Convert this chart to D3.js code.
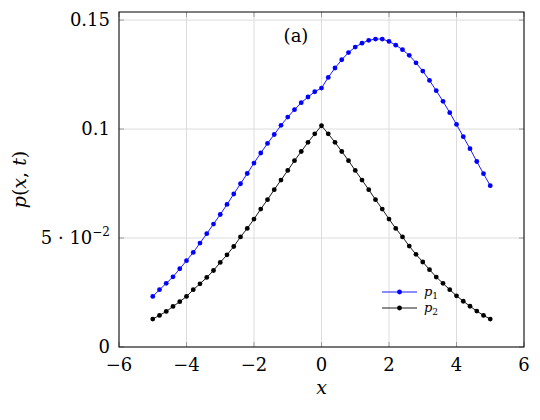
<!DOCTYPE html>
<html>
<head>
<meta charset="utf-8">
<script src="https://cdn.jsdelivr.net/npm/d3@7"></script>
<style>
  html, body { margin: 0; padding: 0; background: #fff; }
  svg { display: block; }
</style>
</head>
<body>
<svg id="chart" width="540" height="420" font-family="'DejaVu Serif', serif"></svg>
<script>
// ---- data ----
const xValues = d3.range(51).map(i => +(-5 + i * 0.2).toFixed(1));
const p1 = [
  0.0232, 0.0263, 0.0292, 0.0322, 0.0359, 0.0396, 0.0434, 0.0477, 0.0520, 0.0564,
  0.0608, 0.0654, 0.0702, 0.0749, 0.0796, 0.0844, 0.0890, 0.0934, 0.0975, 0.1017,
  0.1055, 0.1089, 0.1121, 0.1147, 0.1171, 0.1188,
  0.1237, 0.1280, 0.1318, 0.1351, 0.1376, 0.1394, 0.1407, 0.1413, 0.1413, 0.1402,
  0.1385, 0.1364, 0.1338, 0.1304, 0.1266, 0.1223, 0.1176, 0.1127, 0.1075, 0.1021,
  0.0965, 0.0910, 0.0851, 0.0795, 0.0740
];
const p2 = [
  0.0128, 0.0145, 0.0163, 0.0186, 0.0208, 0.0232, 0.0263, 0.0290, 0.0319, 0.0351,
  0.0388, 0.0423, 0.0461, 0.0505, 0.0544, 0.0587, 0.0633, 0.0676, 0.0722, 0.0766,
  0.0810, 0.0855, 0.0897, 0.0939, 0.0978, 0.1015,
  0.0978, 0.0939, 0.0897, 0.0855, 0.0810, 0.0766, 0.0722, 0.0676, 0.0633, 0.0587,
  0.0544, 0.0505, 0.0463, 0.0425, 0.0390, 0.0355, 0.0321, 0.0292, 0.0263, 0.0235,
  0.0210, 0.0187, 0.0165, 0.0145, 0.0128
];
const xTicks = [-6, -4, -2, 0, 2, 4, 6];
const xTickLabels = ["\u22126", "\u22124", "\u22122", "0", "2", "4", "6"];
const yTicks = [0, 0.05, 0.1, 0.15];
const yTickLabels = ["0", "5 \u00B7 10^\u22122", "0.1", "0.15"];
const seriesNames = ["p1", "p2"];
const seriesColors = ["#0000ff", "#000000"];

// ---- layout ----
const svg = d3.select("#chart");
const L = 119, R = 524, T = 12, B = 347;
const x = d3.scaleLinear().domain([-6, 6]).range([L, R]);
const y = d3.scaleLinear().domain([0, 0.1537]).range([B, T]);

// grid
const grid = svg.append("g");
grid.selectAll("line.gx").data(xTicks).join("line")
  .attr("x1", d => x(d)).attr("x2", d => x(d)).attr("y1", T).attr("y2", B)
  .attr("stroke", "#dcdcdc").attr("stroke-width", 1);
grid.selectAll("line.gy").data(yTicks).join("line")
  .attr("y1", d => y(d)).attr("y2", d => y(d)).attr("x1", L).attr("x2", R)
  .attr("stroke", "#dcdcdc").attr("stroke-width", 1);

// inward ticks on all four sides
const tk = 5;
const ticks = svg.append("g").attr("stroke", "#888").attr("stroke-width", 0.8);
xTicks.forEach(d => {
  ticks.append("line").attr("x1", x(d)).attr("x2", x(d)).attr("y1", B).attr("y2", B - tk);
  ticks.append("line").attr("x1", x(d)).attr("x2", x(d)).attr("y1", T).attr("y2", T + tk);
});
yTicks.forEach(d => {
  ticks.append("line").attr("y1", y(d)).attr("y2", y(d)).attr("x1", L).attr("x2", L + tk);
  ticks.append("line").attr("y1", y(d)).attr("y2", y(d)).attr("x1", R).attr("x2", R - tk);
});

// series
const line = d3.line().x((d, i) => x(xValues[i])).y(d => y(d));
[p1, p2].forEach((s, k) => {
  svg.append("path").datum(s).attr("d", line)
    .attr("fill", "none").attr("stroke", seriesColors[k]).attr("stroke-width", 0.9);
  svg.append("g").selectAll("circle").data(s).join("circle")
    .attr("cx", (d, i) => x(xValues[i])).attr("cy", d => y(d)).attr("r", 2.4)
    .attr("fill", seriesColors[k]);
});

// frame
svg.append("rect").attr("x", L).attr("y", T).attr("width", R - L).attr("height", B - T)
  .attr("fill", "none").attr("stroke", "#000").attr("stroke-width", 1);

// x tick labels
svg.append("g").selectAll("text").data(xTicks).join("text")
  .attr("x", d => x(d)).attr("y", B + 24)
  .attr("text-anchor", "middle").attr("font-size", 18)
  .text((d, i) => xTickLabels[i]);

// y tick labels
yTicks.forEach((d, i) => {
  const lab = yTickLabels[i];
  const t = svg.append("text").attr("x", L - 9).attr("y", y(d) + 6)
    .attr("text-anchor", "end").attr("font-size", 18);
  if (lab.includes("^")) {
    const [base, exp] = lab.split("^");
    t.append("tspan").text(base);
    t.append("tspan").attr("dy", -8).attr("font-size", 12).text(exp);
  } else {
    t.text(lab);
  }
});

// axis labels
svg.append("text").attr("x", x(0)).attr("y", 394).attr("text-anchor", "middle")
  .attr("font-size", 19).attr("font-style", "italic").text("x");
const yl = svg.append("text").attr("transform", `translate(26,${(T + B) / 2}) rotate(-90)`)
  .attr("text-anchor", "middle").attr("font-size", 19);
yl.append("tspan").attr("font-style", "italic").text("p");
yl.append("tspan").text("(");
yl.append("tspan").attr("font-style", "italic").text("x");
yl.append("tspan").text(", ");
yl.append("tspan").attr("font-style", "italic").text("t");
yl.append("tspan").text(")");

// panel label
svg.append("text").attr("x", 296).attr("y", 42).attr("text-anchor", "middle")
  .attr("font-size", 18).text("(a)");

// legend
const legY = [292, 308];
seriesNames.forEach((n, k) => {
  const g = svg.append("g");
  g.append("line").attr("x1", 382).attr("x2", 417).attr("y1", legY[k]).attr("y2", legY[k])
    .attr("stroke", seriesColors[k]).attr("stroke-width", 0.9);
  g.append("circle").attr("cx", 399.5).attr("cy", legY[k]).attr("r", 2.4).attr("fill", seriesColors[k]);
  const t = g.append("text").attr("x", 424).attr("y", legY[k] + 4).attr("font-size", 13);
  t.append("tspan").attr("font-style", "italic").text(n[0]);
  t.append("tspan").attr("dy", 3).attr("font-size", 9).text(n.slice(1));
});
</script>
</body>
</html>
